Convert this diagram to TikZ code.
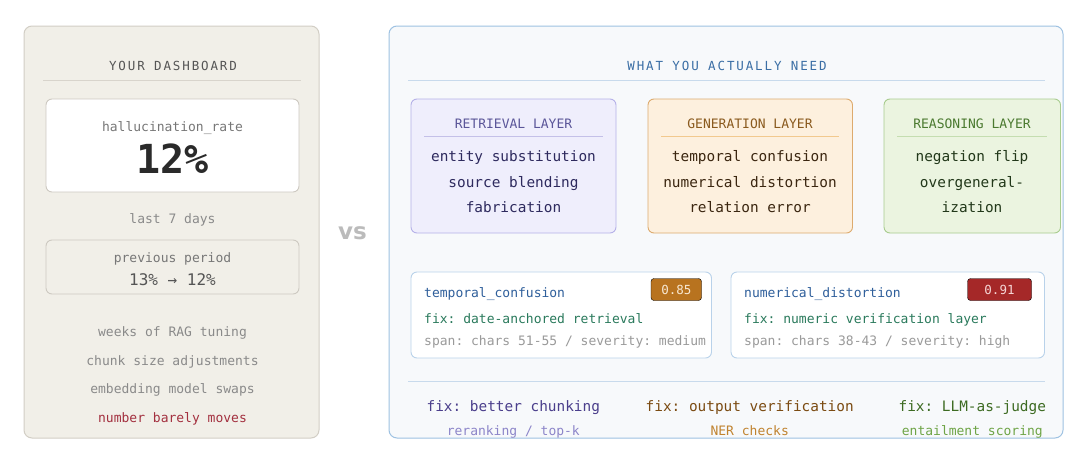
\documentclass[tikz,border=0pt]{standalone}
\usepackage{fontspec}
\setmonofont{DejaVu Sans Mono}
\newfontfamily\spacedmono[LetterSpace=15]{DejaVu Sans Mono}
\newfontfamily\vsfont{DejaVu Sans}
\definecolor{leftbg}{HTML}{F1EFE8}
\definecolor{leftbd}{HTML}{D2CEC5}
\definecolor{leftln}{HTML}{D8D4CC}
\definecolor{boxbd}{HTML}{CDC9C1}
\definecolor{gtitle}{HTML}{555555}
\definecolor{g7}{HTML}{777777}
\definecolor{g8}{HTML}{8A8A8A}
\definecolor{bigtxt}{HTML}{2A2A2A}
\definecolor{redtxt}{HTML}{A3303F}
\definecolor{rightbg}{HTML}{F7F9FB}
\definecolor{rightbd}{HTML}{9EC2E2}
\definecolor{rtitle}{HTML}{3A6EA5}
\definecolor{rline}{HTML}{C8DAEC}
\definecolor{retfill}{HTML}{EFEEFC}
\definecolor{retbd}{HTML}{B5B1E8}
\definecolor{rettitle}{HTML}{5B5699}
\definecolor{retline}{HTML}{C4C0E8}
\definecolor{rettxt}{HTML}{2E2A5E}
\definecolor{genfill}{HTML}{FDF0DE}
\definecolor{genbd}{HTML}{DDAB6E}
\definecolor{gentitle}{HTML}{8A5A1E}
\definecolor{genline}{HTML}{F2C98E}
\definecolor{gentxt}{HTML}{3B2610}
\definecolor{reafill}{HTML}{EBF4E0}
\definecolor{reabd}{HTML}{A8CC8E}
\definecolor{reatitle}{HTML}{4B7A30}
\definecolor{realine}{HTML}{C4DDB0}
\definecolor{reatxt}{HTML}{22381A}
\definecolor{cardbd}{HTML}{B9D2EA}
\definecolor{cardname}{HTML}{2F5F9B}
\definecolor{cardfix}{HTML}{2A7A5C}
\definecolor{cardspan}{HTML}{9A9A9A}
\definecolor{badgeA}{HTML}{B8731F}
\definecolor{badgeAt}{HTML}{F8E8D2}
\definecolor{badgeB}{HTML}{A52828}
\definecolor{badgeBt}{HTML}{F5D5D5}
\definecolor{chunk}{HTML}{4B3F8C}
\definecolor{rerank}{HTML}{8C85C9}
\definecolor{outver}{HTML}{7B4B12}
\definecolor{nerc}{HTML}{C0832F}
\definecolor{judge}{HTML}{3D6B22}
\definecolor{entail}{HTML}{6EA446}
\definecolor{vsgray}{HTML}{BBBBBB}
\newcommand{\fsz}[1]{\fontsize{#1}{#1}\selectfont}
\tikzset{
  t/.style={inner sep=0pt, anchor=base, font=\ttfamily\fsz{13}},
  tl/.style={inner sep=0pt, anchor=base west, font=\ttfamily\fsz{13}},
  item/.style={inner sep=0pt, anchor=base, font=\ttfamily\fsz{14.4}},
  captitle/.style={inner sep=0pt, anchor=base, font=\spacedmono\fsz{12.5}},
  layertitle/.style={inner sep=0pt, anchor=base, font=\ttfamily\fsz{13}},
  panel/.style={rounded corners=8pt, line width=1pt},
  inbox/.style={rounded corners=6pt, line width=0.9pt},
  badge/.style={rounded corners=3pt},
  badgetxt/.style={inner sep=0pt, anchor=base, font=\ttfamily\fsz{12.5}},
}
\begin{document}
\begin{tikzpicture}[x=1pt,y=-1pt]
\useasboundingbox (0,0) rectangle (1081,455);
\fill[white] (0,0) rectangle (1081,455);

% ---------- left panel ----------
\draw[panel, fill=leftbg, draw=leftbd] (24,26) rectangle (319,438);
\node[captitle, text=gtitle] (dashtitle) at (173,70.7) {YOUR DASHBOARD};
\draw[leftln, line width=1pt] (43,80) -- (301,80);
\draw[inbox, fill=white, draw=boxbd] (46,99) rectangle (299,192);
\node[t, text=g7] (hr) at (172.5,131.5) {hallucination\_rate};
\node[inner sep=0pt, anchor=base, font=\ttfamily\bfseries\fsz{40}, text=bigtxt] (pct) at (172.5,173.5) {12\%};
\node[t, text=g8] (last7) at (172.5,223.5) {last 7 days};
\draw[inbox, fill=leftbg, draw=boxbd] (46,240) rectangle (299,294);
\node[t, text=g7] (prev) at (172.5,262.5) {previous period};
\node[inner sep=0pt, anchor=base, font=\ttfamily\fsz{16}, text=gtitle] (change) at (172.5,285) {13\% → 12\%};
\node[t, text=g8] (w1) at (172.5,336) {weeks of RAG tuning};
\node[t, text=g8] (w2) at (172.5,365) {chunk size adjustments};
\node[t, text=g8] (w3) at (172.5,393.5) {embedding model swaps};
\node[t, text=redtxt] (w4) at (172.5,422) {number barely moves};

% ---------- vs ----------
\node[inner sep=0pt, anchor=base, font=\vsfont\bfseries\fsz{23}, text=vsgray] (vs) at (352.5,239) {vs};

% ---------- right panel ----------
\draw[panel, fill=rightbg, draw=rightbd] (389,26) rectangle (1063,438);
\node[captitle, text=rtitle] (needtitle) at (727,70.7) {WHAT YOU ACTUALLY NEED};
\draw[rline, line width=1pt] (408,80) -- (1045,80);

% retrieval layer
\draw[inbox, fill=retfill, draw=retbd] (411,99) rectangle (616,233);
\node[layertitle, text=rettitle] (rett) at (513.5,128.5) {RETRIEVAL LAYER};
\draw[retline, line width=1pt] (424,136) -- (603,136);
\node[item, text=rettxt] (r1) at (513.5,161.5) {entity substitution};
\node[item, text=rettxt] (r2) at (513.5,187) {source blending};
\node[item, text=rettxt] (r3) at (513.5,212.5) {fabrication};

% generation layer
\draw[inbox, fill=genfill, draw=genbd] (648,99) rectangle (852.5,233);
\node[layertitle, text=gentitle] (gent) at (750,128.5) {GENERATION LAYER};
\draw[genline, line width=1pt] (661,136) -- (839,136);
\node[item, text=gentxt] (g1) at (750,161.5) {temporal confusion};
\node[item, text=gentxt] (g2) at (750,187) {numerical distortion};
\node[item, text=gentxt] (g3) at (750,212.5) {relation error};

% reasoning layer
\draw[inbox, fill=reafill, draw=reabd] (884,99) rectangle (1060.5,233);
\node[layertitle, text=reatitle] (reat) at (972,128.5) {REASONING LAYER};
\draw[realine, line width=1pt] (897,136) -- (1047,136);
\node[item, text=reatxt] (a1) at (972,161.5) {negation flip};
\node[item, text=reatxt] (a2) at (972,187) {overgeneral-};
\node[item, text=reatxt] (a3) at (972,212.5) {ization};

% card 1
\draw[inbox, fill=white, draw=cardbd] (411,272) rectangle (711.5,358);
\node[tl, text=cardname] (c1n) at (424,297.5) {temporal\_confusion};
\draw[badge, fill=badgeA] (651,278.5) rectangle (701.5,300.5);
\node[badgetxt, text=badgeAt] (c1b) at (676.3,294.3) {0.85};
\node[tl, text=cardfix] (c1f) at (424,323) {fix: date-anchored retrieval};
\node[tl, text=cardspan] (c1s) at (424,345.5) {span: chars 51-55 / severity: medium};

% card 2
\draw[inbox, fill=white, draw=cardbd] (731,272) rectangle (1044.5,358);
\node[tl, text=cardname] (c2n) at (744,297.5) {numerical\_distortion};
\draw[badge, fill=badgeB] (967.5,278.5) rectangle (1031.5,300.5);
\node[badgetxt, text=badgeBt] (c2b) at (999.5,294.3) {0.91};
\node[tl, text=cardfix] (c2f) at (744,323) {fix: numeric verification layer};
\node[tl, text=cardspan] (c2s) at (744,345.5) {span: chars 38-43 / severity: high};

\draw[rline, line width=1pt] (408,381) -- (1045,381);

% bottom fixes
\node[item, text=chunk] (f1) at (513.3,411.5) {fix: better chunking};
\node[t, text=rerank] (f1s) at (513.3,435) {reranking / top-k};
\node[item, text=outver] (f2) at (749.7,411.5) {fix: output verification};
\node[t, text=nerc] (f2s) at (749.7,435) {NER checks};
\node[item, text=judge] (f3) at (972.3,411.5) {fix: LLM-as-judge};
\node[t, text=entail] (f3s) at (972.3,435) {entailment scoring};
\end{tikzpicture}
\end{document}
